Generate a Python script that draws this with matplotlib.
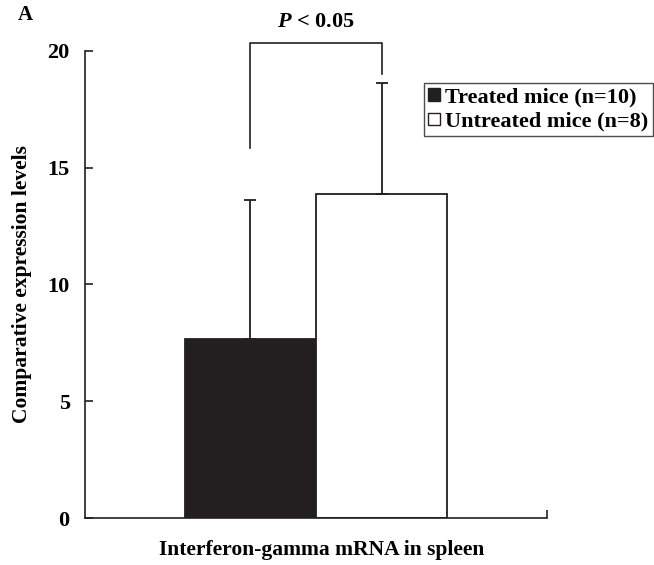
import matplotlib
matplotlib.use("Agg")
import matplotlib.pyplot as plt
from matplotlib.patches import Patch

plt.rcParams['font.family'] = ['Liberation Serif', 'DejaVu Serif']
plt.rcParams['font.weight'] = 'bold'
plt.rcParams['mathtext.fontset'] = 'custom'
plt.rcParams['mathtext.it'] = 'Liberation Serif:bold:italic'
plt.rcParams['mathtext.rm'] = 'Liberation Serif:bold'

# ---- data ----
groups = ["Treated mice (n=10)", "Untreated mice (n=8)"]
means = [7.67, 13.87]
errors_up = [5.95, 4.75]
bar_colors = ["#231f20", "white"]
yticks = [0, 5, 10, 15, 20]
xlabel = "Interferon-gamma mRNA in spleen"
ylabel = "Comparative expression levels"
sig_text = "$P$ < 0.05"
bracket_top = 20.34
bracket_left_end = 15.85
bracket_right_end = 19.0

W, H = 654, 565
fig = plt.figure(figsize=(W / 100, H / 100), dpi=100)
ax = fig.add_axes([85 / W, 1 - 518.3 / H, 462 / W, (518.3 - 50.7) / H])

dark = "#231f20"
pos = [0, 1]
for x, m, e, c, lab in zip(pos, means, errors_up, bar_colors, groups):
    ax.bar(x, m, width=1.0, color=c, edgecolor=dark, linewidth=1.3, label=lab, zorder=2)
    ax.errorbar(x, m, yerr=[[0], [e]], fmt='none', ecolor=dark, elinewidth=1.3,
                capsize=4, capthick=1.3, zorder=3)

ax.set_xlim(-1.258, 2.258)
ax.set_ylim(0, 20)
ax.set_yticks(yticks)
ax.set_yticklabels([str(t) for t in yticks], fontsize=16, fontweight='bold')
ax.set_xticks([2.258])
ax.set_xticklabels([])
ax.tick_params(axis='y', direction='in', length=6, width=1.2, pad=11, color=dark)
ax.tick_params(axis='x', direction='in', length=6, width=1.2, color=dark)
for s in ['top', 'right']:
    ax.spines[s].set_visible(False)
for s in ['left', 'bottom']:
    ax.spines[s].set_linewidth(1.2)
    ax.spines[s].set_color(dark)

# significance bracket
ax.plot([pos[0], pos[0], pos[1], pos[1]],
        [bracket_left_end, bracket_top, bracket_top, bracket_right_end],
        color=dark, lw=1.2, clip_on=False)
ax.text((pos[0] + pos[1]) / 2, bracket_top + 0.45, sig_text, ha='center', va='bottom',
        fontsize=16, fontweight='bold', clip_on=False)

handles = [Patch(facecolor=bar_colors[0], edgecolor=dark, linewidth=1),
           Patch(facecolor=bar_colors[1], edgecolor=dark, linewidth=1)]
leg = fig.legend(handles, groups, loc='upper left', bbox_to_anchor=(424 / W, 1 - 83 / H),
                 borderaxespad=0, handlelength=0.5, handleheight=0.5,
                 handletextpad=0.25, labelspacing=0.2, borderpad=0.2, fancybox=False,
                 frameon=True, prop={'weight': 'bold', 'size': 16})
leg.get_frame().set_edgecolor(dark)
leg.get_frame().set_linewidth(1.0)

fig.text(322 / W, 1 - 550 / H, xlabel, ha='center', va='center', fontsize=15.5, fontweight='bold')
fig.text(22 / W, 1 - 284 / H, ylabel, ha='center', va='center', rotation=90,
         fontsize=15.5, fontweight='bold')
fig.text(25 / W, 1 - 15 / H, "A", ha='center', va='center', fontsize=15, fontweight='bold')

fig.savefig("out.png", dpi=100)
